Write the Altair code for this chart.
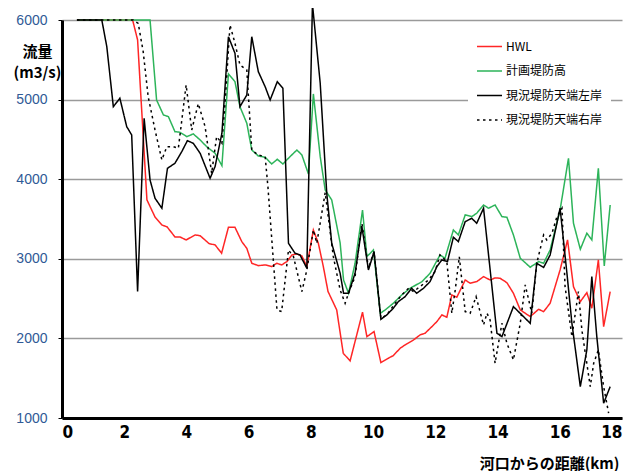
import altair as alt
import pandas as pd

names = ["HWL", "計画堤防高", "現況堤防天端左岸", "現況堤防天端右岸"]

hwl_km = [0.48, 2.27, 2.43, 2.73, 2.99, 3.21, 3.38, 3.63, 3.79, 3.99, 4.28, 4.44, 4.73, 4.92, 5.13,
          5.35, 5.56, 5.78, 5.94, 6.10, 6.31, 6.53, 6.74, 6.90, 7.06, 7.23, 7.39, 7.55, 7.71, 7.87,
          8.08, 8.24, 8.40, 8.55, 8.83, 9.04, 9.26, 9.66, 9.80, 10.03, 10.25, 10.49, 10.65, 10.87,
          11.08, 11.30, 11.51, 11.67, 11.89, 12.05, 12.21, 12.37, 12.53, 12.69, 12.96, 13.12, 13.33,
          13.55, 13.76, 13.92, 14.08, 14.30, 14.51, 14.73, 15.05, 15.32, 15.48, 15.69, 16.01, 16.25,
          16.44, 16.66, 16.87, 17.03, 17.24, 17.41, 17.62]
hwl_q = [6000, 6000, 5750, 3740, 3525, 3425, 3400, 3275, 3275, 3237, 3300, 3290, 3190, 3175, 3070,
         3396, 3396, 3215, 3132, 2944, 2914, 2923, 2902, 2944, 2923, 2965, 3048, 3061, 3036, 2902,
         3362, 3195, 2902, 2590, 2358, 1814, 1717, 2329, 2022, 2085, 1696, 1751, 1784, 1877,
         1931, 1981, 2044, 2065, 2148, 2211, 2295, 2266, 2546, 2517, 2734, 2693, 2713,
         2776, 2734, 2760, 2756, 2700, 2567, 2358, 2274, 2366, 2336, 2442, 2860, 3237,
         2650, 2462, 2575, 2379, 2986, 2148, 2588]

plan_km = [0.48, 2.83, 3.04, 3.26, 3.42, 3.63, 3.79, 4.01, 4.22, 4.44, 4.65, 4.92, 5.14, 5.35, 5.56,
           5.72, 5.94, 6.10, 6.31, 6.53, 6.74, 6.92, 7.10, 7.31, 7.55, 7.71, 7.92, 8.08, 8.30, 8.46,
           8.67, 8.94, 9.05, 9.21, 9.42, 9.66, 9.80, 10.01, 10.23, 10.39, 10.65, 10.92, 11.19, 11.57,
           11.83, 12.15, 12.31, 12.58, 12.74, 12.96, 13.17, 13.33, 13.55, 13.71, 13.92, 14.14, 14.30,
           14.51, 14.73, 15.05, 15.32, 15.48, 15.69, 16.01, 16.28, 16.44, 16.66, 16.87, 17.03, 17.24,
           17.43, 17.62]
plan_q = [6000, 6000, 4995, 4807, 4786, 4597, 4590, 4535, 4569, 4493, 4409, 4326, 4170, 5322, 5225,
          4911, 4703, 4367, 4292, 4276, 4191, 4250, 4191, 4276, 4367, 4305, 4066, 5071, 4283, 3865,
          3739, 3200, 2734, 2567, 2944, 3613, 3027, 3111, 2316, 2358, 2442, 2546, 2630, 2713,
          2818, 3048, 3007, 3362, 3300, 3551, 3530, 3572, 3676, 3635, 3676, 3530, 3522,
          3300, 3007, 2894, 2965, 2944, 3111, 3614, 4263, 3447, 3120, 3321, 3237, 4137,
          2910, 3676]

left_km = [0.48, 1.28, 1.44, 1.65, 1.86, 2.08, 2.24, 2.43, 2.64, 2.83, 2.99, 3.21, 3.39, 3.63, 3.85,
           4.03, 4.22, 4.44, 4.76, 4.92, 5.14, 5.35, 5.56, 5.72, 5.94, 6.10, 6.31, 6.53, 6.69, 6.92,
           7.10, 7.28, 7.49, 7.65, 7.87, 8.05, 8.30, 8.51, 8.67, 8.94, 9.05, 9.21, 9.42, 9.64, 9.85,
           10.03, 10.25, 10.44, 10.65, 10.81, 11.03, 11.24, 11.40, 11.62, 11.83, 12.05, 12.21, 12.39,
           12.58, 12.74, 12.96, 13.17, 13.33, 13.55, 13.98, 14.14, 14.51, 15.05, 15.26, 15.48, 15.69,
           16.01, 16.23, 16.39, 16.66, 16.87, 17.03, 17.19, 17.41, 17.62]
left_q = [6000, 6000, 5665, 4911, 5017, 4660, 4556, 2588, 4765, 3990, 3761, 3635, 4137, 4200, 4346,
          4484, 4451, 4326, 4012, 4158, 4577, 5790, 5582, 4911, 5058, 5790, 5351, 5162, 4995, 5225,
          5142, 3195, 3070, 3048, 2881, 6200, 5205, 3823, 3195, 2818, 2567, 2567, 2818, 3404, 2860,
          3090, 2240, 2295, 2379, 2462, 2525, 2630, 2567, 2630, 2713, 2902, 2986, 2965,
          3271, 3216, 3467, 3509, 3446, 3635, 2065, 2022, 2399, 2190, 2944, 2891, 3048,
          3635, 2818, 2190, 1394, 1855, 2776, 2022, 1186, 1394]

right_km = [0.48, 2.29, 2.45, 2.61, 2.77, 2.99, 3.21, 3.37, 3.58, 3.74, 3.99, 4.17, 4.38, 4.60, 4.81,
            4.97, 5.14, 5.24, 5.40, 5.56, 5.72, 5.94, 6.10, 6.31, 6.53, 6.62, 6.91, 7.06, 7.28, 7.44,
            7.71, 7.87, 8.08, 8.19, 8.46, 8.72, 8.94, 9.10, 9.21, 9.42, 9.64, 9.85, 10.03, 10.25, 10.44,
            10.71, 10.92, 11.14, 11.30, 11.51, 11.78, 11.99, 12.15, 12.37, 12.53, 12.64, 12.77, 12.96,
            13.12, 13.31, 13.55, 13.66, 13.76, 13.92, 14.14, 14.30, 14.51, 14.73, 14.89, 15.10, 15.26,
            15.48, 15.58, 15.75, 15.91, 16.07, 16.17, 16.39, 16.60, 16.71, 16.98, 17.09, 17.24, 17.41,
            17.57]
right_q = [6000, 6000, 5958, 5602, 5037, 4618, 4242, 4409, 4409, 4388, 5184, 4618, 4950, 4660, 4074,
           4535, 4451, 4954, 5937, 5707, 5435, 5372, 4367, 4304, 4283, 3900, 2358, 2337, 3111, 3027,
           2588, 2860, 3362, 3195, 3830, 3030, 2609, 2442, 2567, 2776, 3446, 2881, 3090, 2253, 2295,
           2442, 2546, 2630, 2588, 2651, 2734, 2839, 3048, 2965, 2316, 2609, 3027, 2337,
           2316, 2525, 2169, 2316, 2232, 1688, 2190, 1939, 1730, 2190, 2672, 2316, 2944,
           3300, 3237, 3321, 3530, 3635, 2651, 2022, 2588, 2106, 1394, 1688, 1855, 1394,
           1060]

x_ticks = [0, 2, 4, 6, 8, 10, 12, 14, 16, 18]
y_ticks = [1000, 2000, 3000, 4000, 5000, 6000]

colors = ["#ff2626", "#2db45a", "#000000", "#000000"]
dashes = [[1, 0], [1, 0], [1, 0], [2.5, 3.5]]
widths = [1.5, 1.5, 1.3, 2.8]

rows = []
for name, xs, ys in zip(names, [hwl_km, plan_km, left_km, right_km], [hwl_q, plan_q, left_q, right_q]):
    for i, (x, y) in enumerate(zip(xs, ys)):
        rows.append({"series": name, "km": x, "q": y, "i": i})
df = pd.DataFrame(rows)

leg = alt.Legend(
    orient="none", legendX=406, legendY=5, fillColor="white", padding=8,
    symbolType="stroke", symbolSize=625, symbolStrokeWidth=1.6, labelOffset=3,
    labelFont="Noto Sans CJK JP", labelFontSize=12, labelColor="#000000",
    rowPadding=4.5, title=None,
)

chart = alt.Chart(df).mark_line(clip=False, strokeCap="butt").encode(
    x=alt.X("km:Q", scale=alt.Scale(domain=[0, 18], nice=False),
            axis=alt.Axis(values=x_ticks, grid=False, ticks=False, labelPadding=6,
                          labelFont="Liberation Sans Narrow, DejaVu Sans Condensed, sans-serif",
                          labelFontWeight="bold", labelFontSize=17, labelColor="#000000",
                          domainColor="#000000", domainWidth=3,
                          title="河口からの距離(km)", titleFont="Noto Sans CJK JP",
                          titleFontSize=15, titleFontWeight="bold", titleColor="#000000",
                          titleAlign="right", titleX=557, titleY=50, titleBaseline="alphabetic")),
    y=alt.Y("q:Q", scale=alt.Scale(domain=[1000, 6000], nice=False),
            axis=alt.Axis(values=y_ticks, format="d", grid=True, gridColor="#9a9a9a", gridWidth=1.5,
                          tickColor="#000000", tickSize=4, labelPadding=11,
                          labelFont="Liberation Sans", labelFontSize=14, labelColor="#2f5a96",
                          domainColor="#000000", domainWidth=3,
                          title=["流量", "(m3/s)"], titleFont="Noto Sans CJK JP",
                          titleFontSize=15, titleFontWeight="bold", titleColor="#000000",
                          titleAngle=0, titleAlign="center", titleX=-25, titleY=36,
                          titleBaseline="alphabetic", titleLineHeight=21)),
    color=alt.Color("series:N", scale=alt.Scale(domain=names, range=colors), legend=leg, title=None),
    strokeDash=alt.StrokeDash("series:N", scale=alt.Scale(domain=names, range=dashes), legend=leg, title=None),
    strokeWidth=alt.StrokeWidth("series:N", scale=alt.Scale(domain=names, range=widths), legend=None),
    order="i:Q",
).properties(
    width=560, height=398,
    padding={"left": 54, "top": 12, "right": 6, "bottom": 53},
    autosize=alt.AutoSizeParams(type="none"),
).configure_view(strokeWidth=0)

chart.save("out.html", embed_options={"renderer": "svg", "actions": False})
